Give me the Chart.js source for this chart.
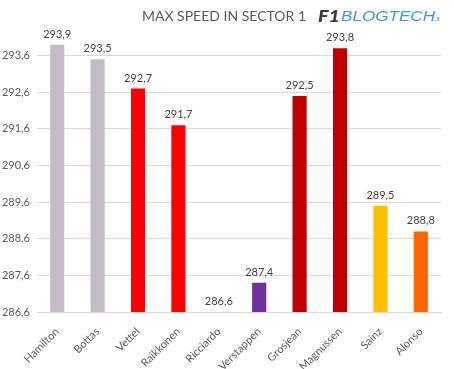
<!DOCTYPE html>
<html>
<head>
<meta charset="utf-8">
<script src="https://cdn.jsdelivr.net/npm/chart.js@4.4.1/dist/chart.umd.min.js"></script>
<style>
	html, body { margin: 0; padding: 0; background: #fff; }
	#wrap { width: 454px; height: 369px; }
</style>
</head>
<body>
<div id="wrap"><canvas id="speed" width="454" height="369"></canvas></div>
<script>
// data
const drivers = ['Hamilton', 'Bottas', 'Vettel', 'Raikkonen', 'Ricciardo', 'Verstappen', 'Grosjean', 'Magnussen', 'Sainz', 'Alonso'];
const maxSpeed = [293.9, 293.5, 292.7, 291.7, 286.6, 287.4, 292.5, 293.8, 289.5, 288.8];
const teamColors = ['#c4bcc4', '#c4bcc4', '#ff0000', '#ff0000', '#1e2d5a', '#7030a0', '#c00000', '#c00000', '#ffc000', '#ff6600'];
const yTicks = [286.6, 287.6, 288.6, 289.6, 290.6, 291.6, 292.6, 293.6];
const yMin = 286.6;
const yMax = 294;

const fmt = v => v.toFixed(1).replace('.', ',');
const FONT = 'Lato, "Open Sans", sans-serif';

// draw text squeezed/stretched to a given width
function fitText(ctx, text, x, y, w) {
	const m = ctx.measureText(text).width;
	ctx.save();
	ctx.translate(x, y);
	ctx.scale(w / m, 1);
	ctx.fillText(text, 0, 0);
	ctx.restore();
}

// value labels over the bars + title and logo
const decorations = {
	id: 'decorations',
	afterDatasetsDraw(chart) {
		const ctx = chart.ctx;
		const meta = chart.getDatasetMeta(0);
		ctx.save();
		ctx.font = '11px ' + FONT;
		ctx.fillStyle = '#404040';
		ctx.textAlign = 'center';
		ctx.textBaseline = 'bottom';
		meta.data.forEach((bar, i) => {
			ctx.fillText(fmt(maxSpeed[i]), bar.x, bar.y - 5);
		});

		// title
		ctx.font = '14px ' + FONT;
		ctx.fillStyle = '#595959';
		ctx.textBaseline = 'middle';
		ctx.fillText('MAX SPEED IN SECTOR 1', 224, 16);

		// logo
		ctx.textAlign = 'left';
		ctx.textBaseline = 'alphabetic';
		ctx.font = 'italic 900 17px ' + FONT;
		ctx.fillStyle = '#3a3a3a';
		fitText(ctx, 'F1', 318, 22, 22);
		ctx.font = 'italic 15px "Liberation Sans", sans-serif';
		ctx.fillStyle = '#3f9bc6';
		fitText(ctx, 'BLOGTECH', 341, 21, 94);
		ctx.font = 'italic 6px ' + FONT;
		ctx.fillStyle = '#7a7a7a';
		ctx.fillText('.it', 435, 21);
		ctx.restore();
	}
};

new Chart(document.getElementById('speed').getContext('2d'), {
	type: 'bar',
	data: {
		labels: drivers,
		datasets: [{
			data: maxSpeed,
			backgroundColor: teamColors,
			borderWidth: 0,
			categoryPercentage: 1,
			barPercentage: 0.35
		}]
	},
	options: {
		responsive: false,
		animation: false,
		layout: { padding: { top: 41, right: 13, bottom: 0, left: 0 } },
		plugins: {
			legend: { display: false },
			tooltip: { enabled: false }
		},
		scales: {
			x: {
				grid: { display: false },
				border: { display: true, color: '#d9d9d9' },
				ticks: {
					color: '#595959',
					font: { family: FONT, size: 11 },
					minRotation: 45,
					maxRotation: 45,
					padding: 5
				},
				afterFit(scale) { scale.height = 57; }
			},
			y: {
				min: yMin,
				max: yMax,
				border: { display: false },
				grid: { color: '#d9d9d9', drawTicks: false },
				afterBuildTicks(scale) {
					scale.ticks = yTicks.map(v => ({ value: v }));
				},
				ticks: {
					color: '#595959',
					font: { family: FONT, size: 11 },
					padding: 7,
					callback: v => fmt(v)
				},
				afterFit(scale) { scale.width = 37; }
			}
		}
	},
	plugins: [decorations]
});
</script>
</body>
</html>
